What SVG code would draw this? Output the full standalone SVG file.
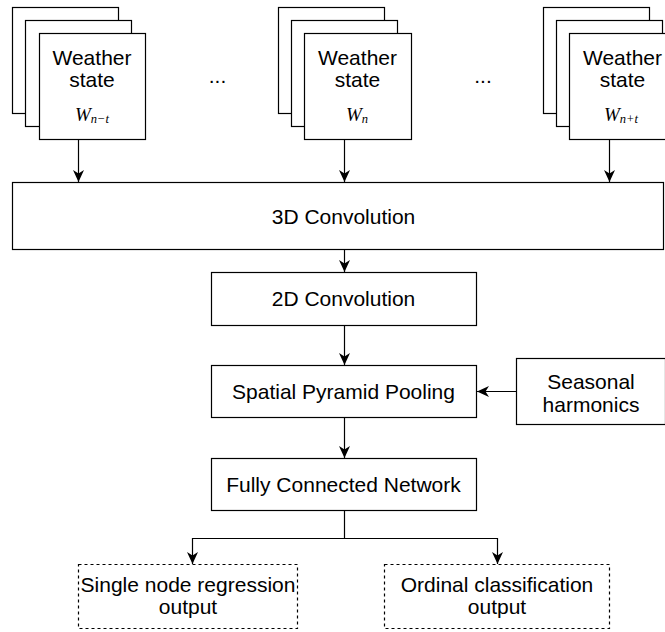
<svg xmlns="http://www.w3.org/2000/svg" width="665" height="632" viewBox="0 0 665 632">
<style>
.box{fill:#fff;stroke:#000;stroke-width:1.2}
.dash{fill:#fff;stroke:#000;stroke-width:1.2;stroke-dasharray:3 3}
.t{font-family:"Liberation Sans",Arial,Helvetica,sans-serif;font-size:21px;fill:#000;text-anchor:middle}
.m{font-family:"Liberation Serif","Times New Roman",serif;font-style:italic;font-size:19px;fill:#000;text-anchor:middle}
.s{font-size:12.5px}
.c{fill:none;stroke:#000;stroke-width:1.2}
</style>
<defs>
<marker id="arr" markerUnits="userSpaceOnUse" markerWidth="13" markerHeight="13" viewBox="0 0 13 13" refX="12" refY="6.5" orient="auto">
<path d="M0,1 L12,6.5 L0,12 L3.5,6.5 z" fill="#000"/>
</marker>
</defs>
<g id="ws1">
<rect class="box" x="12.5" y="7.5" width="106" height="106"/>
<rect class="box" x="25.5" y="20.5" width="106" height="106"/>
<rect class="box" x="39.5" y="33.5" width="106" height="106"/>
<text class="t" x="92" y="65">Weather</text>
<text class="t" x="92" y="87">state</text>
<text class="m" x="92" y="120.5">W<tspan class="s" dy="2">n−t</tspan></text>
</g>
<g id="ws2">
<rect class="box" x="278.5" y="7.5" width="106" height="106"/>
<rect class="box" x="291.5" y="20.5" width="106" height="106"/>
<rect class="box" x="304.5" y="33.5" width="107" height="106"/>
<text class="t" x="357.5" y="65">Weather</text>
<text class="t" x="357.5" y="87">state</text>
<text class="m" x="357" y="120.5">W<tspan class="s" dy="2">n</tspan></text>
</g>
<g id="ws3">
<rect class="box" x="543.5" y="7.5" width="106" height="106"/>
<rect class="box" x="556.5" y="20.5" width="106" height="106"/>
<rect class="box" x="569.5" y="33.5" width="106" height="106"/>
<text class="t" x="622.5" y="65">Weather</text>
<text class="t" x="622.5" y="87">state</text>
<text class="m" x="621" y="120.5">W<tspan class="s" dy="2">n+t</tspan></text>
</g>
<g id="dots1"><text class="t" x="217.5" y="83">...</text></g>
<g id="dots2"><text class="t" x="483" y="83">...</text></g>
<g id="conv3d">
<rect class="box" x="12.5" y="182.5" width="651" height="67"/>
<text class="t" x="343.5" y="223.5">3D Convolution</text>
</g>
<g id="conv2d">
<rect class="box" x="211.5" y="272.5" width="265" height="53"/>
<text class="t" x="343.5" y="306">2D Convolution</text>
</g>
<g id="spp">
<rect class="box" x="211.5" y="365.5" width="265" height="52"/>
<text class="t" x="343.5" y="399">Spatial Pyramid Pooling</text>
</g>
<g id="seasonal">
<rect class="box" x="516.5" y="358.5" width="149" height="66"/>
<text class="t" x="591" y="389">Seasonal</text>
<text class="t" x="591" y="411.5">harmonics</text>
</g>
<g id="fcn">
<rect class="box" x="211.5" y="458.5" width="265" height="52"/>
<text class="t" x="343.5" y="492">Fully Connected Network</text>
</g>
<g id="out1">
<rect class="dash" x="78.5" y="564.5" width="219" height="64"/>
<text class="t" x="188" y="592">Single node regression</text>
<text class="t" x="188" y="614">output</text>
</g>
<g id="out2">
<rect class="dash" x="384.5" y="564.5" width="225" height="64"/>
<text class="t" x="497" y="592">Ordinal classification</text>
<text class="t" x="497" y="614">output</text>
</g>
<g id="connectors">
<line class="c" x1="78.5" y1="139.5" x2="78.5" y2="182" marker-end="url(#arr)"/>
<line class="c" x1="344.5" y1="139.5" x2="344.5" y2="182" marker-end="url(#arr)"/>
<line class="c" x1="609.5" y1="139.5" x2="609.5" y2="182" marker-end="url(#arr)"/>
<line class="c" x1="344.5" y1="249.5" x2="344.5" y2="272" marker-end="url(#arr)"/>
<line class="c" x1="344.5" y1="325.5" x2="344.5" y2="365" marker-end="url(#arr)"/>
<line class="c" x1="344.5" y1="417.5" x2="344.5" y2="458" marker-end="url(#arr)"/>
<line class="c" x1="516.5" y1="391.5" x2="477" y2="391.5" marker-end="url(#arr)"/>
<path class="c" d="M344.5,510.5 V538.5 H192.5 V564" marker-end="url(#arr)"/>
<path class="c" d="M344.5,538.5 H497.5 V564" marker-end="url(#arr)"/>
</g>
</svg>
